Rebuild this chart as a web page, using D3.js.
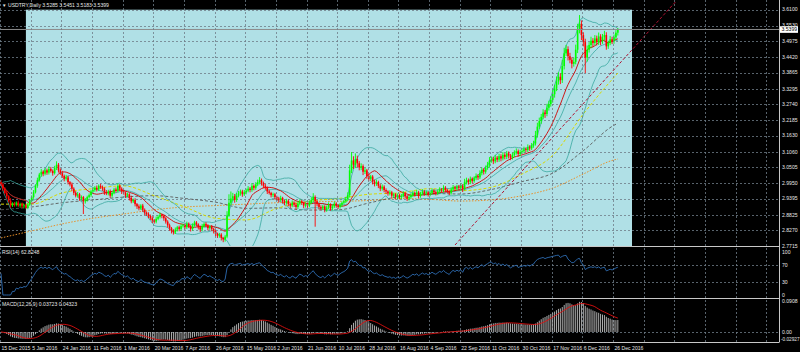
<!DOCTYPE html>
<html>
<head>
<meta charset="utf-8">
<script src="https://cdn.jsdelivr.net/npm/d3@7"></script>
<style>
body { margin: 0; background: #000; }
svg { display: block; }
text { font-family: "Liberation Sans", Arial, sans-serif; }
</style>
</head>
<body>
<script>
// ---- data (USDTRY daily) ----
var firstOpen = 2.998;
// closes, one per daily bar, 16 bars per date label
var closes = [
  2.990, 2.975, 2.960, 2.948, 2.932, 2.915, 2.922, 2.918, 2.926, 2.915, 2.920, 2.912, 2.916, 2.908, 2.918, 2.932,
  2.945, 2.962, 2.985, 3.005, 3.025, 3.035, 3.028, 3.040, 3.032, 3.045, 3.038, 3.030, 3.048, 3.060, 3.040, 3.030,
  3.020, 3.010, 3.015, 2.998, 2.990, 2.975, 2.960, 2.950, 2.955, 2.940, 2.945, 2.930, 2.935, 2.945, 2.952, 2.965,
  2.970, 2.978, 2.972, 2.985, 2.980, 2.975, 2.962, 2.958, 2.965, 2.950, 2.960, 2.972, 2.968, 2.985, 2.975, 2.965,
  2.960, 2.950, 2.955, 2.942, 2.930, 2.935, 2.920, 2.912, 2.905, 2.915, 2.900, 2.890, 2.885, 2.878, 2.870, 2.862,
  2.858, 2.868, 2.875, 2.882, 2.878, 2.870, 2.858, 2.845, 2.835, 2.826, 2.820, 2.830, 2.838, 2.832, 2.842, 2.845,
  2.838, 2.850, 2.842, 2.832, 2.845, 2.855, 2.848, 2.838, 2.830, 2.842, 2.850, 2.845, 2.835, 2.840, 2.832, 2.825,
  2.815, 2.808, 2.812, 2.800, 2.795, 2.805, 2.880, 2.925, 2.940, 2.948, 2.935, 2.950, 2.958, 2.965, 2.955, 2.962,
  2.968, 2.975, 2.970, 2.985, 2.978, 2.990, 2.998, 3.005, 2.995, 2.985, 2.978, 2.965, 2.960, 2.952, 2.955, 2.945,
  2.940, 2.935, 2.942, 2.930, 2.925, 2.932, 2.920, 2.915, 2.925, 2.918, 2.910, 2.922, 2.930, 2.925, 2.915, 2.920,
  2.915, 2.925, 2.935, 2.945, 2.930, 2.920, 2.910, 2.905, 2.912, 2.900, 2.908, 2.918, 2.905, 2.912, 2.922, 2.915,
  2.910, 2.918, 2.925, 2.930, 2.938, 2.952, 3.040, 3.075, 3.060, 3.080, 3.065, 3.050, 3.055, 3.035, 3.040, 3.020,
  3.010, 3.018, 3.000, 2.992, 2.998, 2.985, 2.975, 2.982, 2.970, 2.965, 2.958, 2.962, 2.950, 2.955, 2.945, 2.952,
  2.945, 2.950, 2.958, 2.948, 2.940, 2.945, 2.952, 2.960, 2.955, 2.962, 2.950, 2.958, 2.965, 2.958, 2.962, 2.955,
  2.960, 2.968, 2.962, 2.958, 2.965, 2.972, 2.968, 2.978, 2.970, 2.965, 2.960, 2.972, 2.980, 2.975, 2.982, 2.978,
  2.985, 2.975, 2.998, 3.005, 2.998, 3.010, 3.002, 3.012, 3.020, 3.015, 3.030, 3.042, 3.035, 3.048, 3.060, 3.075,
  3.080, 3.072, 3.085, 3.078, 3.090, 3.082, 3.095, 3.088, 3.100, 3.092, 3.085, 3.095, 3.102, 3.108, 3.098, 3.105,
  3.108, 3.115, 3.112, 3.122, 3.118, 3.128, 3.135, 3.165, 3.195, 3.215, 3.230, 3.245, 3.240, 3.262, 3.275, 3.290,
  3.310, 3.330, 3.355, 3.372, 3.360, 3.410, 3.455, 3.470, 3.445, 3.432, 3.418, 3.425, 3.468, 3.540, 3.560, 3.520,
  3.495, 3.440, 3.468, 3.485, 3.500, 3.492, 3.508, 3.495, 3.515, 3.498, 3.512, 3.520, 3.480, 3.492, 3.505, 3.498,
  3.512, 3.5285, 3.5399
];
// wick above / below the body, in 0.001
var wickUp = [
  8,6,5,7,4,9,5,6,4,7,5,6,4,5,6,5,
  6,8,5,9,6,10,5,8,6,9,7,5,8,12,6,7,
  8,5,9,6,4,7,5,6,8,5,6,4,7,5,6,5,
  9,6,8,5,7,6,5,8,6,7,5,6,7,8,6,5,
  7,5,6,4,8,5,6,4,7,5,6,5,4,6,5,7,
  5,8,6,9,5,6,4,5,6,4,5,7,5,6,8,5,
  6,8,5,4,7,6,5,4,6,8,5,6,4,5,6,4,
  5,4,6,5,4,6,15,30,25,12,8,10,9,7,6,8,
  7,9,6,10,5,8,9,11,6,5,7,5,6,4,6,5,
  5,6,8,4,5,7,5,4,8,5,6,9,7,5,4,6,
  5,8,9,14,6,5,4,6,5,4,7,8,5,6,7,5,
  5,6,5,6,8,10,20,30,15,20,12,8,10,6,9,5,
  8,6,5,7,9,5,6,8,5,6,4,7,5,6,4,6,
  5,6,8,5,4,6,7,8,5,9,5,6,8,5,6,4,
  6,8,5,6,7,8,5,9,6,5,4,7,8,5,7,6,
  8,6,12,9,6,8,5,7,9,6,10,8,6,9,10,12,
  9,8,10,6,9,7,10,6,9,7,6,8,9,10,6,8,
  7,9,6,10,7,9,10,15,14,12,10,12,9,14,12,13,
  15,14,18,16,12,22,20,15,10,12,9,14,18,20,31,12,
  10,12,15,10,14,9,12,10,14,8,12,15,10,8,12,9,
  10,9,5.2
];
var wickDn = [
  6,8,5,9,6,8,5,7,6,5,8,6,7,5,6,4,
  5,6,4,7,5,8,9,6,8,7,6,9,5,7,8,6,
  7,9,6,8,7,9,8,6,7,8,6,45,8,6,5,6,
  5,6,7,5,6,8,9,6,7,8,6,5,7,6,8,9,
  6,8,5,9,7,6,8,9,7,6,8,9,7,8,6,9,
  7,6,5,6,8,9,7,8,9,10,8,6,7,8,6,5,
  8,6,7,9,6,5,7,8,9,6,5,7,8,6,8,9,
  9,8,7,9,10,8,6,5,8,9,10,7,6,8,9,6,
  7,6,8,6,9,7,6,8,9,8,7,9,6,8,7,9,
  8,9,6,8,9,7,8,9,6,8,9,7,6,8,9,7,
  8,6,5,7,90,8,9,7,6,9,7,6,8,7,6,8,
  7,6,8,5,6,7,8,10,15,12,14,10,9,12,8,10,
  9,8,10,9,7,8,9,7,8,9,8,7,9,8,9,7,
  8,7,6,8,9,7,6,7,8,6,9,7,6,8,7,8,
  7,6,8,7,6,5,7,6,8,7,8,6,5,7,6,8,
  9,12,6,8,9,7,8,6,7,9,6,8,10,7,6,8,
  8,10,7,9,8,10,7,9,8,10,9,7,8,6,9,8,
  7,6,8,7,9,6,8,7,9,8,10,9,14,8,10,9,
  10,12,9,11,14,10,12,9,15,12,16,10,9,12,14,18,
  15,55,14,10,12,14,9,12,10,14,9,10,12,9,8,10,
  9,8,10.2
];

// slow moving averages read at every date label (bar 0,16,...,320) and the last bar
var sma50 = [2.92, 2.92, 2.96, 2.975, 2.985, 2.95, 2.91, 2.87, 2.864, 2.905, 2.93, 2.94, 2.955, 2.96, 2.975, 2.968, 2.98, 3.027, 3.093, 3.24, 3.37, 3.385];
var sma100 = [2.90, 2.91, 2.925, 2.935, 2.945, 2.95, 2.94, 2.927, 2.905, 2.907, 2.899, 2.90, 2.924, 2.947, 2.958, 2.956, 2.972, 3.0, 3.03, 3.11, 3.20, 3.207];
var sma200 = [2.80, 2.825, 2.85, 2.87, 2.885, 2.90, 2.91, 2.915, 2.92, 2.925, 2.928, 2.93, 2.933, 2.94, 2.937, 2.931, 2.935, 2.95, 2.977, 3.027, 3.077, 3.08];

var dateLabels = ["15 Dec 2015", "5 Jan 2016", "24 Jan 2016", "11 Feb 2016", "1 Mar 2016", "20 Mar 2016",
  "7 Apr 2016", "26 Apr 2016", "15 May 2016", "2 Jun 2016", "21 Jun 2016", "10 Jul 2016", "28 Jul 2016",
  "16 Aug 2016", "4 Sep 2016", "22 Sep 2016", "11 Oct 2016", "30 Oct 2016", "17 Nov 2016", "6 Dec 2016", "26 Dec 2016"];
var priceTicks = [3.6100, 3.5530, 3.4975, 3.4420, 3.3865, 3.3295, 3.2740, 3.2185, 3.1630, 3.1060,
  3.0505, 2.9950, 2.9395, 2.8825, 2.8270, 2.7715];
var rsiTicks = [100, 70, 30, 0];
var rsiLevels = [70, 30];
var macdTicks = [0.0908, 0, -0.02927];
var lastPrice = 3.5399;
// trend line anchors [bar, price] and the blue box [bar from, bar to, price top, price bottom]
var trendLine = [[237, 2.775], [352, 3.637]];
var box = [13, 329.4, 3.61, 2.7715];
var barsPerLabel = 16;

// ---- layout ----
var W = 800, H = 352, plotR = 779;
var fs = 5.1;
var svg = d3.select("body").append("svg").attr("width", W).attr("height", H);
svg.append("rect").attr("width", W).attr("height", H).attr("fill", "#000");

var x = d3.scaleLinear().domain([0, 320]).range([1, 614]);
var y = d3.scaleLinear().domain([2.7715, 3.61]).range([246, 9.7]);
var yRsi = d3.scaleLinear().domain([0, 100]).range([295, 252]);
var yMacd = d3.scaleLinear().domain([-0.02927, 0.0908]).range([342, 301]);

var defs = svg.append("defs");
function clip(id, y0, h) {
  defs.append("clipPath").attr("id", id).append("rect").attr("x", 0).attr("y", y0).attr("width", plotR).attr("height", h);
}
clip("cMain", 0, 246.5);
clip("cRsi", 247, 51);
clip("cMacd", 299, 43);

var main = svg.append("g").attr("clip-path", "url(#cMain)");

// blue box object
main.append("rect")
  .attr("x", x(box[0])).attr("y", y(box[2]))
  .attr("width", x(box[1]) - x(box[0])).attr("height", y(box[3]) - y(box[2]))
  .attr("fill", "#b0e0e6");

// grid
var gridCol = "#6f7c88";
var gridIdx = d3.range(0, 26);
svg.append("g").selectAll("line").data(gridIdx).enter().append("line")
  .attr("x1", function(k) { return Math.round(x(k * barsPerLabel)) - 0.5; })
  .attr("x2", function(k) { return Math.round(x(k * barsPerLabel)) - 0.5; })
  .attr("y1", 0).attr("y2", 342)
  .attr("stroke", gridCol).attr("stroke-width", 0.8).attr("stroke-dasharray", "2,2");
main.append("g").selectAll("line").data(priceTicks).enter().append("line")
  .attr("x1", 0).attr("x2", plotR)
  .attr("y1", function(d) { return Math.round(y(d)) + 0.5; })
  .attr("y2", function(d) { return Math.round(y(d)) + 0.5; })
  .attr("stroke", gridCol).attr("stroke-width", 0.8).attr("stroke-dasharray", "2,2");
svg.append("g").selectAll("line").data(rsiLevels).enter().append("line")
  .attr("x1", 0).attr("x2", plotR)
  .attr("y1", function(d) { return Math.round(yRsi(d)) + 0.5; })
  .attr("y2", function(d) { return Math.round(yRsi(d)) + 0.5; })
  .attr("stroke", gridCol).attr("stroke-width", 0.8).attr("stroke-dasharray", "2,2");
svg.append("line").attr("x1", 0).attr("x2", plotR)
  .attr("y1", Math.round(yMacd(0)) + 0.5).attr("y2", Math.round(yMacd(0)) + 0.5)
  .attr("stroke", gridCol).attr("stroke-width", 0.8).attr("stroke-dasharray", "2,2");

// ---- bars ----
var bars = closes.map(function(c, i) {
  var o = i === 0 ? firstOpen : closes[i - 1];
  return { i: i, o: o, c: c, h: Math.max(o, c) + wickUp[i] / 1000, l: Math.min(o, c) - wickDn[i] / 1000 };
});

// indicators
function sma(arr, n) {
  return arr.map(function(d, i) {
    var s = arr.slice(Math.max(0, i - n + 1), i + 1);
    return d3.mean(s);
  });
}
function ema(arr, n) {
  var k = 2 / (n + 1), out = [arr[0]];
  for (var i = 1; i < arr.length; i++) out.push(arr[i] * k + out[i - 1] * (1 - k));
  return out;
}
var maFast = sma(closes, 14);
var bbMid = sma(closes, 20);
var bbUp = [], bbLo = [];
closes.forEach(function(d, i) {
  var s = closes.slice(Math.max(0, i - 19), i + 1);
  var sd = d3.deviation(s) || 0;
  sd = sd * Math.sqrt((s.length - 1) / s.length);
  bbUp.push(bbMid[i] + 2 * sd);
  bbLo.push(bbMid[i] - 2 * sd);
});

var line = d3.line().x(function(d, i) { return x(i); }).y(function(d) { return y(d); });
function drawSeries(g, data, col, w, dash) {
  g.append("path").datum(data).attr("d", line)
    .attr("fill", "none").attr("stroke", col).attr("stroke-width", w)
    .attr("stroke-dasharray", dash || null);
}

// slow averages from the samples
var sampleIdx = d3.range(0, 321, barsPerLabel).concat([closes.length - 1]);
var slowLine = d3.line().curve(d3.curveMonotoneX)
  .x(function(d, k) { return x(sampleIdx[k]); }).y(function(d) { return y(d); });
function drawSlow(data, col, w, dash) {
  main.append("path").datum(data).attr("d", slowLine)
    .attr("fill", "none").attr("stroke", col).attr("stroke-width", w).attr("stroke-dasharray", dash);
}
drawSlow(sma200, "#e8902a", 1, "1.5,1.5");
drawSlow(sma100, "#5a5a5a", 0.9, "3,2");
drawSlow(sma50, "#d8d800", 1, "3,2");

drawSeries(main, bbUp, "#3aa8a0", 0.8);
drawSeries(main, bbMid, "#3aa8a0", 0.8);
drawSeries(main, bbLo, "#3aa8a0", 0.8);
drawSeries(main, maFast, "#d00000", 0.9);

// trend line
main.append("line")
  .attr("x1", x(trendLine[0][0])).attr("y1", y(trendLine[0][1]))
  .attr("x2", x(trendLine[1][0])).attr("y2", y(trendLine[1][1]))
  .attr("stroke", "#b01030").attr("stroke-width", 1).attr("stroke-dasharray", "3,2");

// candles
var up = "#00ff00", dn = "#ff0000";
var cg = main.append("g");
cg.selectAll("line").data(bars).enter().append("line")
  .attr("x1", function(d) { return x(d.i); }).attr("x2", function(d) { return x(d.i); })
  .attr("y1", function(d) { return y(d.h); }).attr("y2", function(d) { return y(d.l); })
  .attr("stroke", function(d) { return d.c >= d.o ? up : dn; }).attr("stroke-width", 0.9);
cg.selectAll("rect").data(bars).enter().append("rect")
  .attr("x", function(d) { return x(d.i) - 0.8; })
  .attr("width", 1.6)
  .attr("y", function(d) { return y(Math.max(d.o, d.c)); })
  .attr("height", function(d) { return Math.max(0.8, Math.abs(y(d.o) - y(d.c))); })
  .attr("fill", function(d) { return d.c >= d.o ? up : dn; });

// last price line
main.append("line").attr("x1", 0).attr("x2", plotR)
  .attr("y1", y(lastPrice)).attr("y2", y(lastPrice))
  .attr("stroke", "#8c8c8c").attr("stroke-width", 1);

// ---- RSI ----
var rsi = [50];
(function() {
  var n = 14, ag = 0, al = 0;
  for (var i = 1; i < closes.length; i++) {
    var d = closes[i] - closes[i - 1];
    var g = Math.max(d, 0), l = Math.max(-d, 0);
    if (i <= n) { ag = (ag * (i - 1) + g) / i; al = (al * (i - 1) + l) / i; }
    else { ag = (ag * (n - 1) + g) / n; al = (al * (n - 1) + l) / n; }
    rsi.push(al === 0 ? 100 : 100 - 100 / (1 + ag / al));
  }
})();
svg.append("g").attr("clip-path", "url(#cRsi)").append("path").datum(rsi)
  .attr("d", d3.line().x(function(d, i) { return x(i); }).y(function(d) { return yRsi(d); }))
  .attr("fill", "none").attr("stroke", "#2e6db4").attr("stroke-width", 0.9);

// ---- MACD ----
var e12 = ema(closes, 12), e26 = ema(closes, 26);
var macd = e12.map(function(d, i) { return d - e26[i]; });
var signal = sma(macd, 9);
var mg = svg.append("g").attr("clip-path", "url(#cMacd)");
mg.selectAll("line").data(macd).enter().append("line")
  .attr("x1", function(d, i) { return x(i); }).attr("x2", function(d, i) { return x(i); })
  .attr("y1", yMacd(0)).attr("y2", function(d) { return yMacd(d); })
  .attr("stroke", "#c0c0c0").attr("stroke-width", 0.9);
mg.append("path").datum(signal)
  .attr("d", d3.line().x(function(d, i) { return x(i); }).y(function(d) { return yMacd(d); }))
  .attr("fill", "none").attr("stroke", "#e01010").attr("stroke-width", 0.9);

// ---- frame ----
var frameCol = "#c8c8c8";
svg.append("line").attr("x1", plotR + 0.5).attr("x2", plotR + 0.5).attr("y1", 0).attr("y2", 342.5).attr("stroke", frameCol);
[246.5, 298.5, 342.5].forEach(function(v) {
  svg.append("line").attr("x1", 0).attr("x2", plotR).attr("y1", v).attr("y2", v).attr("stroke", frameCol).attr("stroke-width", 1);
});

// ---- text ----
var txtCol = "#e6e6e6";
function label(g, data, fx, fy, ft) {
  g.selectAll("text").data(data).enter().append("text")
    .attr("x", fx).attr("y", fy).attr("dy", "0.35em")
    .attr("font-size", fs).attr("fill", txtCol).text(ft);
}
label(svg.append("g"), priceTicks.filter(function(d) { return Math.abs(y(d) - y(lastPrice)) > 6; }),
  782, function(d) { return y(d); }, function(d) { return d.toFixed(4); });
label(svg.append("g"), rsiTicks, 782, function(d) { return yRsi(d); }, function(d) { return d; });
label(svg.append("g"), macdTicks.slice(0, 2), 782, function(d) { return yMacd(d); },
  function(d) { return d === 0 ? "0.00" : d.toString(); });
// bottom MACD label is pushed up inside the panel
svg.append("text").attr("x", 781).attr("y", Math.min(yMacd(macdTicks[2]), 339)).attr("dy", "0.35em")
  .attr("font-size", 4.7).attr("fill", txtCol).text(macdTicks[2].toString());
svg.append("g").selectAll("text").data(dateLabels).enter().append("text")
  .attr("x", function(d, k) { return x(k * barsPerLabel) + 0.5; }).attr("y", 349.5)
  .attr("font-size", fs).attr("fill", txtCol).text(function(d) { return d; });

// last price tag, the tick right above it peeks out as in the terminal
svg.append("text").attr("x", 782).attr("y", y(3.5530) - 1).attr("dy", "0.35em")
  .attr("font-size", fs).attr("fill", txtCol).text("3.5530");
svg.append("rect").attr("x", 780).attr("y", y(lastPrice) - 3.2).attr("width", 18).attr("height", 6.6).attr("fill", "#fff");
svg.append("text").attr("x", 781.5).attr("y", y(lastPrice)).attr("dy", "0.35em")
  .attr("font-size", fs).attr("fill", "#000").text(lastPrice.toFixed(4));

svg.append("text").attr("x", 2).attr("y", 5).attr("dy", "0.35em").attr("font-size", 4.5).attr("fill", txtCol).text("\u25BC");
svg.append("text").attr("x", 8).attr("y", 5).attr("dy", "0.35em").attr("font-size", fs).attr("fill", txtCol)
  .text("USDTRY,Daily  3.5285 3.5451 3.5183 3.5399");
svg.append("text").attr("x", 2).attr("y", 252).attr("dy", "0.35em").attr("font-size", fs).attr("fill", txtCol)
  .text("RSI(14) " + "62.8248");
svg.append("text").attr("x", 2).attr("y", 304).attr("dy", "0.35em").attr("font-size", fs).attr("fill", txtCol)
  .text("MACD(12,26,9) 0.03723 0.04323");
</script>
</body>
</html>
